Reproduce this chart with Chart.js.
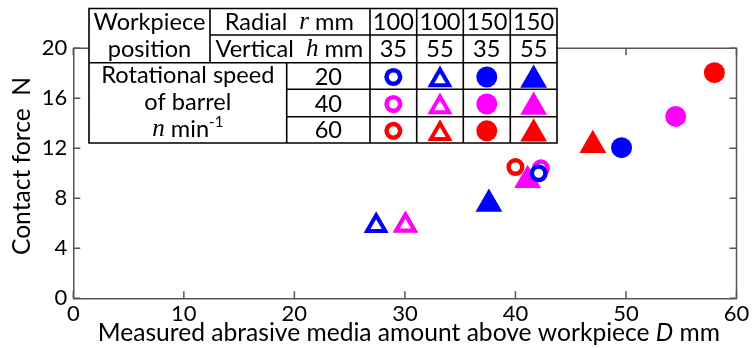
<!DOCTYPE html>
<html lang="en">
<head>
  <meta charset="utf-8">
  <title>Contact force vs abrasive media amount</title>
  <script src="https://cdn.jsdelivr.net/npm/chart.js@4.4.1/dist/chart.umd.min.js"></script>
  <style>
    body { margin: 0; background: #fff; }
  </style>
</head>
<body>
  <canvas id="chart" width="752" height="348"></canvas>
  <script>
    // table header values
    const speeds = [20, 40, 60];
    const radial = [100, 100, 150, 150];
    const vertical = [35, 55, 35, 55];

    // measured D (mm) and contact force (N), one entry per workpiece position
    // order: r100/h35, r100/h55, r150/h35, r150/h55
    const dAt20 = [42.1, 27.4, 49.6, 37.6];
    const fAt20 = [10.0, 5.8, 12.05, 7.55];
    const dAt40 = [42.3, 30.05, 54.5, 41.1];
    const fAt40 = [10.4, 5.85, 14.55, 9.45];
    const dAt60 = [40.0, 30.05, 58.0, 47.0];
    const fAt60 = [10.5, 5.85, 18.05, 12.25];

    const xTicks = [0, 10, 20, 30, 40, 50, 60];
    const yTicks = [0, 4, 8, 12, 16, 20];

    const colors = ['#0000ff', '#ff00ff', '#ff0000'];
    const FONT = 'Lato';
    const axisColor = '#555';

    // marker style for each position column
    function markerFor(col, color) {
      const tri = col % 2 === 1;
      const open = col < 2;
      if (open) {
        return tri
          ? { pointStyle: 'triangle', radius: 10.5, borderWidth: 4, backgroundColor: '#fff', borderColor: color }
          : { pointStyle: 'circle', radius: 6.8, borderWidth: 4.5, backgroundColor: '#fff', borderColor: color };
      }
      return tri
        ? { pointStyle: 'triangle', radius: 15.5, borderWidth: 0, backgroundColor: color, borderColor: color }
        : { pointStyle: 'circle', radius: 10.5, borderWidth: 0, backgroundColor: color, borderColor: color };
    }

    const dAll = [dAt20, dAt40, dAt60];
    const fAll = [fAt20, fAt40, fAt60];
    // draw order (lower order = on top)
    const orderTable = [
      [1, 6, 5, 5],
      [2, 4, 5, 5],
      [3, 7, 5, 5]
    ];

    const datasets = [];
    speeds.forEach((s, row) => {
      radial.forEach((r, col) => {
        const m = markerFor(col, colors[row]);
        datasets.push({
          label: 'n=' + s + ', r=' + r + ', h=' + vertical[col],
          data: [{ x: dAll[row][col], y: fAll[row][col] }],
          pointStyle: m.pointStyle,
          pointRadius: m.radius,
          pointBorderWidth: m.borderWidth,
          pointBackgroundColor: m.backgroundColor,
          pointBorderColor: m.borderColor,
          order: orderTable[row][col],
          showLine: false
        });
      });
    });

    function drawParts(ctx, parts, cx, cy) {
      let total = 0;
      parts.forEach(p => { ctx.font = p.font; p.w = ctx.measureText(p.t).width; total += p.w; });
      let x = cx - total / 2;
      parts.forEach(p => {
        ctx.font = p.font;
        ctx.fillText(p.t, x, cy + (p.dy || 0));
        x += p.w;
      });
    }

    const overlay = {
      id: 'overlay',
      beforeDatasetsDraw(chart) {
        const { ctx, chartArea: a, scales: { x, y } } = chart;
        ctx.save();
        ctx.strokeStyle = axisColor;
        ctx.lineWidth = 1.5;
        ctx.beginPath();
        ctx.moveTo(a.left, a.top);
        ctx.lineTo(a.right, a.top);
        ctx.lineTo(a.right, a.bottom);
        ctx.stroke();
        // inward ticks on all four sides
        const tl = 7;
        ctx.beginPath();
        x.ticks.forEach((t, i) => {
          const px = x.getPixelForTick(i);
          ctx.moveTo(px, a.bottom); ctx.lineTo(px, a.bottom - tl);
          ctx.moveTo(px, a.top); ctx.lineTo(px, a.top + tl);
        });
        y.ticks.forEach((t, i) => {
          const py = y.getPixelForTick(i);
          ctx.moveTo(a.left, py); ctx.lineTo(a.left + tl, py);
          ctx.moveTo(a.right, py); ctx.lineTo(a.right - tl, py);
        });
        ctx.stroke();

        // axis titles
        const tf = '24.6px ' + FONT;
        ctx.fillStyle = '#000';
        ctx.textBaseline = 'middle';
        drawParts(ctx, [
          { t: 'Measured abrasive media amount above workpiece ', font: tf },
          { t: 'D', font: 'italic ' + tf },
          { t: ' mm', font: tf }
        ], (a.left + a.right) / 2 + 4, 333);
        ctx.translate(22, 166);
        ctx.rotate(-Math.PI / 2);
        drawParts(ctx, [{ t: 'Contact force  N', font: tf }], 0, 0);
        ctx.restore();
      },
      afterDraw(chart) {
        const { ctx } = chart;
        const L = 89, T = 8.5, R = 557, B = 143;
        const cols = [L, 210, 286.7, 370, 416.7, 463.3, 510.3, R];
        const rows = [T, 35, 62.7, 89.3, 116.7, B];
        ctx.save();
        ctx.fillStyle = '#fff';
        ctx.fillRect(L, T, R - L, B - T);
        ctx.strokeStyle = '#000';
        ctx.lineWidth = 1.6;
        ctx.beginPath();
        ctx.rect(L, T, R - L, B - T);
        // horizontal lines
        ctx.moveTo(cols[1], rows[1]); ctx.lineTo(R, rows[1]);
        ctx.moveTo(L, rows[2]); ctx.lineTo(R, rows[2]);
        ctx.moveTo(cols[2], rows[3]); ctx.lineTo(R, rows[3]);
        ctx.moveTo(cols[2], rows[4]); ctx.lineTo(R, rows[4]);
        // vertical lines
        ctx.moveTo(cols[1], T); ctx.lineTo(cols[1], rows[2]);
        ctx.moveTo(cols[2], rows[2]); ctx.lineTo(cols[2], B);
        for (let i = 3; i <= 6; i++) { ctx.moveTo(cols[i], T); ctx.lineTo(cols[i], B); }
        ctx.stroke();

        const f = '23.6px ' + FONT;
        const it = 'italic 25px "Liberation Serif"';
        ctx.fillStyle = '#000';
        ctx.textBaseline = 'middle';
        const rc = i => (rows[i] + rows[i + 1]) / 2 + 1;
        const cc = i => (cols[i] + cols[i + 1]) / 2;
        drawParts(ctx, [{ t: 'Workpiece', font: f }], (L + cols[1]) / 2, rc(0));
        drawParts(ctx, [{ t: 'position', font: f }], (L + cols[1]) / 2, rc(1));
        drawParts(ctx, [{ t: 'Radial  ', font: f }, { t: 'r', font: it }, { t: ' mm', font: f }], cc(1) + 41, rc(0));
        drawParts(ctx, [{ t: 'Vertical  ', font: f }, { t: 'h', font: it }, { t: ' mm', font: f }], cc(1) + 41, rc(1));
        radial.forEach((v, i) => drawParts(ctx, [{ t: String(v), font: f }], cc(3 + i), rc(0)));
        vertical.forEach((v, i) => drawParts(ctx, [{ t: String(v), font: f }], cc(3 + i), rc(1)));
        const leftC = (L + cols[2]) / 2;
        drawParts(ctx, [{ t: 'Rotational speed', font: f }], leftC, 75);
        drawParts(ctx, [{ t: 'of barrel', font: f }], leftC, 102);
        drawParts(ctx, [{ t: 'n', font: it }, { t: ' min', font: f }, { t: '-1', font: '15px ' + FONT, dy: -7 }], leftC, 129);
        speeds.forEach((s, r) => {
          drawParts(ctx, [{ t: String(s), font: f }], cc(2), rc(2 + r));
          radial.forEach((v, c) => {
            const m = markerFor(c, colors[r]);
            ctx.fillStyle = m.backgroundColor;
            ctx.strokeStyle = m.borderColor;
            ctx.lineWidth = m.borderWidth;
            const tri = m.pointStyle === 'triangle';
            Chart.helpers.drawPoint(ctx, {
              pointStyle: m.pointStyle, radius: m.radius, rotation: 0, borderWidth: m.borderWidth
            }, cc(3 + c), rc(2 + r) + (tri ? 3 : 0));
            ctx.fillStyle = '#000';
          });
        });
        ctx.restore();
      }
    };

    const ctx = document.getElementById('chart').getContext('2d');
    new Chart(ctx, {
      type: 'scatter',
      data: { datasets },
      options: {
        responsive: false,
        animation: false,
        layout: { padding: { top: 48.3, right: 15, left: 0, bottom: 0 } },
        plugins: { legend: { display: false }, tooltip: { enabled: false } },
        scales: {
          x: {
            type: 'linear', min: 0, max: 60,
            afterBuildTicks: s => { s.ticks = xTicks.map(v => ({ value: v })); },
            ticks: { font: { family: FONT, size: 22 }, color: '#000', padding: 2, maxRotation: 0 },
            grid: { display: true, drawOnChartArea: false, drawTicks: false },
            border: { color: axisColor, width: 1.5 },
            afterFit: s => { s.height = 348 - 298.3; }
          },
          y: {
            type: 'linear', min: 0, max: 20,
            afterBuildTicks: s => { s.ticks = yTicks.map(v => ({ value: v })); },
            ticks: { font: { family: FONT, size: 22 }, color: '#000', padding: 6 },
            grid: { display: true, drawOnChartArea: false, drawTicks: false },
            border: { color: axisColor, width: 1.5 },
            afterFit: s => { s.width = 73.3; }
          }
        }
      },
      plugins: [overlay]
    });
  </script>
</body>
</html>
